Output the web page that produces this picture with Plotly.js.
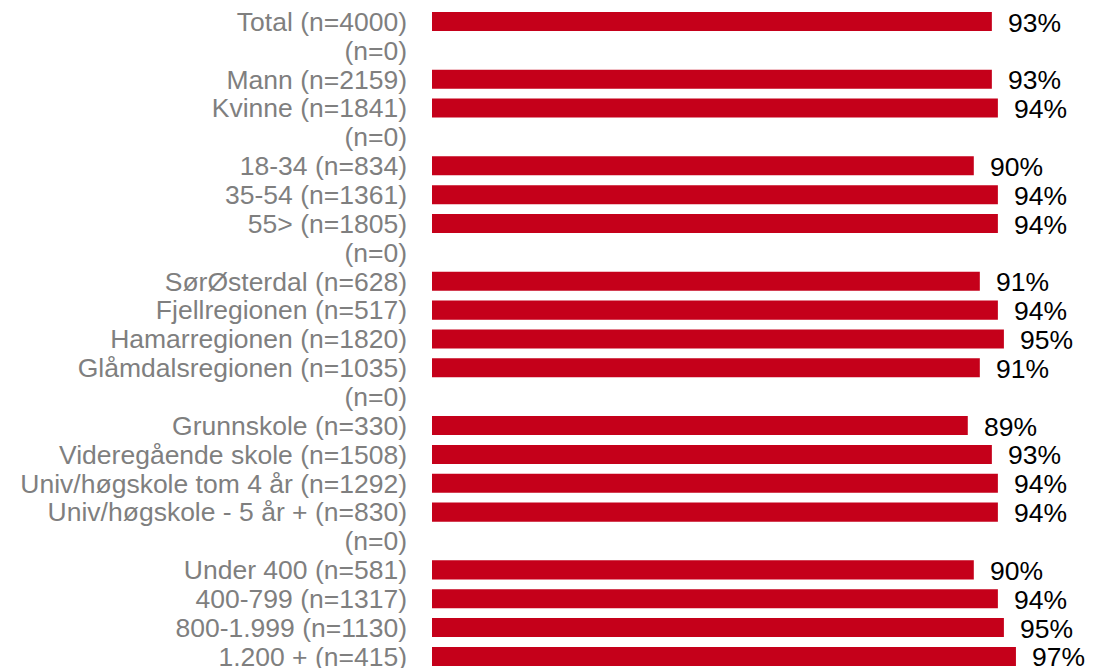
<!DOCTYPE html>
<html><head><meta charset="utf-8">
<script src="https://cdn.plot.ly/plotly-3.0.1.min.js"></script>
<style>html,body{margin:0;padding:0;background:#fff;}#chart{width:1112px;height:668px;}</style>
</head><body><div id="chart"></div>
<script>
const categories = [
  "Total (n=4000)", "(n=0)", "Mann (n=2159)", "Kvinne (n=1841)", "(n=0)",
  "18-34 (n=834)", "35-54 (n=1361)", "55> (n=1805)", "(n=0)",
  "SørØsterdal (n=628)", "Fjellregionen (n=517)", "Hamarregionen (n=1820)", "Glåmdalsregionen (n=1035)", "(n=0)",
  "Grunnskole (n=330)", "Videregående skole (n=1508)", "Univ/høgskole tom 4 år (n=1292)", "Univ/høgskole - 5 år + (n=830)", "(n=0)",
  "Under 400 (n=581)", "400-799 (n=1317)", "800-1.999 (n=1130)", "1.200 + (n=415)"
];
const values = [
  93, null, 93, 94, null,
  90, 94, 94, null,
  91, 94, 95, 91, null,
  89, 93, 94, 94, null,
  90, 94, 95, 97
];
const positions = categories.map((c, i) => i);

const annotations = [];
values.forEach((v, i) => {
  if (v === null) return;
  annotations.push({
    x: v, y: i, xref: 'x', yref: 'y',
    text: v + '%', showarrow: false,
    xanchor: 'left', yanchor: 'middle', xshift: 14, yshift: -1,
    font: {family: 'Liberation Sans, Arial, sans-serif', size: 26.5, color: '#000000'}
  });
});

const trace = {
  type: 'bar', orientation: 'h',
  x: values, y: positions,
  marker: {color: '#C5001A'},
  width: 0.66,
  hoverinfo: 'none'
};

const layout = {
  width: 1112, height: 668,
  margin: {l: 432, r: 78, t: 0, b: 0, pad: 0},
  paper_bgcolor: '#ffffff', plot_bgcolor: '#ffffff',
  showlegend: false,
  font: {family: 'Liberation Sans, Arial, sans-serif'},
  xaxis: {range: [0, 100], visible: false, fixedrange: true},
  yaxis: {
    range: [22.40, -0.745],
    tickmode: 'array', tickvals: positions, ticktext: categories,
    showgrid: false, zeroline: false, showline: false, ticks: '',
    ticklabelstandoff: 24, ticklabeloverflow: 'allow',
    tickfont: {family: 'Liberation Sans, Arial, sans-serif', size: 26.5, color: '#7F7F7F'}
  },
  annotations: annotations
};

Plotly.newPlot('chart', [trace], layout, {staticPlot: true, displayModeBar: false});
</script>
</body></html>
